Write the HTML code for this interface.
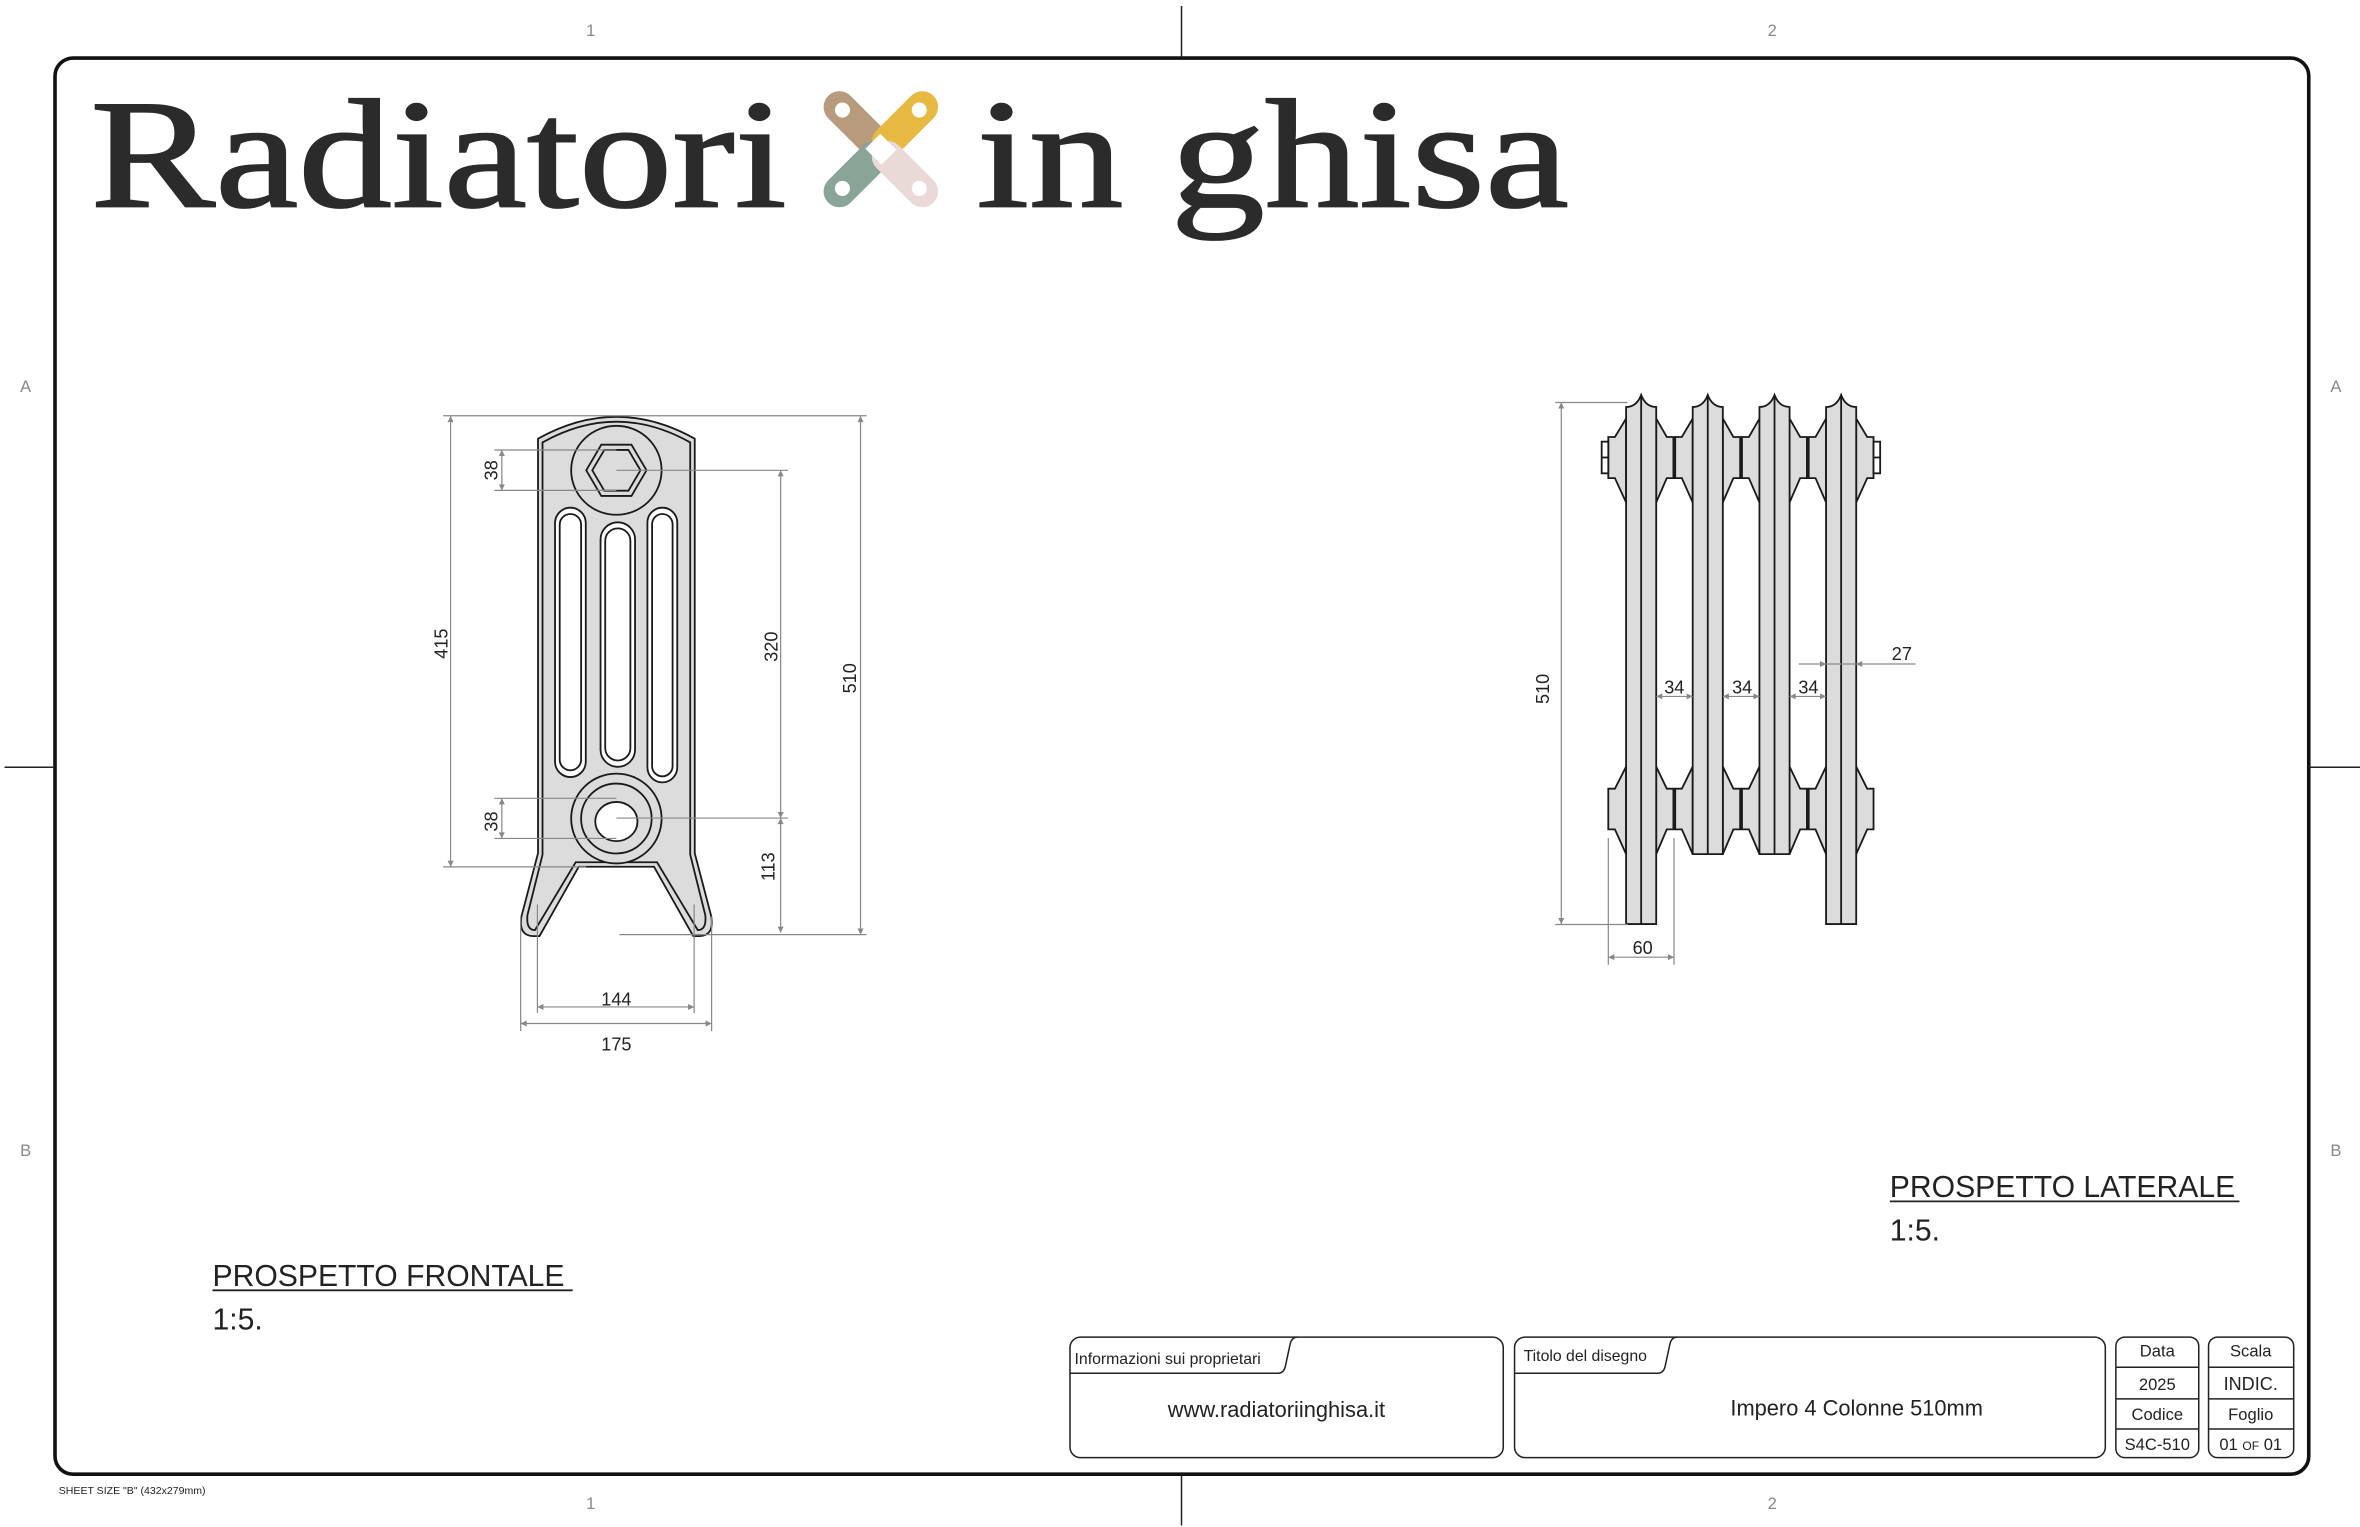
<!DOCTYPE html>
<html><head><meta charset="utf-8"><style>
html,body{margin:0;padding:0;background:#fff;}
svg{display:block;}
text{font-family:"Liberation Sans",sans-serif;}
</style></head><body>
<svg width="2360" height="1527" viewBox="0 0 1566 1013" preserveAspectRatio="none" xmlns="http://www.w3.org/2000/svg">
<defs>
<marker id="ar" viewBox="0 0 10 10" refX="10" refY="5" markerWidth="7" markerHeight="4" orient="auto-start-reverse" markerUnits="userSpaceOnUse"><path d="M0,0 L10,5 L0,10 Z" fill="#888"/></marker>
</defs>
<rect width="1566" height="1013" fill="#fff"/>
<rect x="36.5" y="38.5" width="1495.5" height="939.5" rx="12" fill="none" stroke="#111" stroke-width="2.4"/>
<g stroke="#222" stroke-width="1">
<line x1="784" y1="4" x2="784" y2="38"/><line x1="784" y1="978" x2="784" y2="1012"/>
<line x1="3" y1="509" x2="36" y2="509"/><line x1="1532" y1="509" x2="1566" y2="509"/>
</g>
<g fill="#888" font-size="11" text-anchor="middle">
<text x="392" y="24">1</text><text x="1176" y="24">2</text>
<text x="392" y="1001">1</text><text x="1176" y="1001">2</text>
<text x="17" y="260">A</text><text x="1550" y="260">A</text>
<text x="17" y="767">B</text><text x="1550" y="767">B</text>
</g>
<text x="39" y="991" font-size="7" fill="#222">SHEET SIZE "B" (432x279mm)</text>

<g fill="#2b2b2b" stroke="#2b2b2b" stroke-width="1.2" font-size="103">
<text x="60" y="137" textLength="462" lengthAdjust="spacingAndGlyphs" style="font-family:'Liberation Serif',serif">Radiatori</text>
<text x="648" y="137" textLength="393" lengthAdjust="spacingAndGlyphs" style="font-family:'Liberation Serif',serif">in ghisa</text>
</g>
<g stroke-linecap="round" stroke-width="21">
<line x1="557" y1="71" x2="580" y2="94" stroke="#b89a7c"/>
<line x1="612" y1="71" x2="589" y2="94" stroke="#e8b940"/>
<line x1="557" y1="127" x2="580" y2="104" stroke="#88a598"/>
<line x1="612" y1="127" x2="589" y2="104" stroke="#e9d9d7"/>
</g>
<g fill="#fff">
<circle cx="559" cy="73" r="5"/><circle cx="610" cy="73" r="5"/><circle cx="559" cy="125" r="5"/><circle cx="610" cy="125" r="5"/>
<rect x="577" y="92" width="15" height="14" transform="rotate(45 584.5 99)"/>
</g>

<g stroke="#1a1a1a" stroke-width="1.2">
<path d="M357,291 Q409,262 461,291 L461,566 L472,608 Q474,621 464,621 L460,621 L434,575 L384,575 L358,621 L354,621 Q344,621 346,608 L357,566 Z" fill="#dcdcdc"/>
<path d="M360,293.5 Q409,266 458,293.5 L458,567 L468,607 Q469,617 463,617 L436,572 L382,572 L355,617 Q349,617 350,607 L360,567 Z" fill="none"/>
<ellipse cx="409" cy="312" rx="30" ry="29.5" fill="#dcdcdc"/>
<polygon points="389,312 399,295 419,295 429,312 419,329 399,329" fill="#dcdcdc"/>
<polygon points="393,312 401,298.5 417,298.5 425,312 417,325.5 401,325.5" fill="none"/>
<rect x="368.3" y="336.8" width="20.4" height="178.7" rx="10.2" fill="#fff"/>
<rect x="371.4" y="341" width="14.2" height="170" rx="7.1" fill="#fff"/>
<rect x="398.5" y="346.5" width="22.9" height="162.2" rx="11.4" fill="#fff"/>
<rect x="401.6" y="350.5" width="16.7" height="154" rx="8.3" fill="#fff"/>
<rect x="429.6" y="336.8" width="19.8" height="182.2" rx="9.9" fill="#fff"/>
<rect x="432.7" y="341" width="13.6" height="174" rx="6.8" fill="#fff"/>
<ellipse cx="409" cy="543" rx="30" ry="29.8" fill="#dcdcdc"/>
<ellipse cx="409" cy="543" rx="23.4" ry="23.2" fill="#dcdcdc"/>
<ellipse cx="409" cy="545" rx="14" ry="13" fill="#fff"/>
</g>
<g stroke="#888" stroke-width="0.8" fill="none">
<line x1="294" y1="275.8" x2="575" y2="275.8"/>
<line x1="299" y1="276" x2="299" y2="575" marker-start="url(#ar)" marker-end="url(#ar)"/>
<line x1="294" y1="575.1" x2="389" y2="575.1"/>
<line x1="328" y1="298.5" x2="409" y2="298.5"/><line x1="328" y1="325.3" x2="409" y2="325.3"/>
<line x1="333" y1="298.5" x2="333" y2="325.3" marker-start="url(#ar)" marker-end="url(#ar)"/>
<line x1="328" y1="529.6" x2="409" y2="529.6"/><line x1="328" y1="556.2" x2="409" y2="556.2"/>
<line x1="333" y1="529.6" x2="333" y2="556.2" marker-start="url(#ar)" marker-end="url(#ar)"/>
<line x1="409" y1="312" x2="523" y2="312"/><line x1="409" y1="542.7" x2="523" y2="542.7"/>
<line x1="518" y1="312" x2="518" y2="542.7" marker-start="url(#ar)" marker-end="url(#ar)"/>
<line x1="518" y1="542.7" x2="518" y2="618.7" marker-start="url(#ar)" marker-end="url(#ar)"/>
<line x1="411" y1="620" x2="575" y2="620"/>
<line x1="571" y1="276" x2="571" y2="620" marker-start="url(#ar)" marker-end="url(#ar)"/>
<line x1="356.6" y1="600" x2="356.6" y2="672"/><line x1="460.6" y1="600" x2="460.6" y2="672"/>
<line x1="356.6" y1="668" x2="460.6" y2="668" marker-start="url(#ar)" marker-end="url(#ar)"/>
<line x1="345.5" y1="608" x2="345.5" y2="684"/><line x1="472.2" y1="608" x2="472.2" y2="684"/>
<line x1="345.5" y1="679" x2="472.2" y2="679" marker-start="url(#ar)" marker-end="url(#ar)"/>
</g>
<g fill="#222" font-size="12" text-anchor="middle">
<text transform="translate(297,427) rotate(-90)">415</text>
<text transform="translate(330,312) rotate(-90)">38</text>
<text transform="translate(330,545) rotate(-90)">38</text>
<text transform="translate(516,429) rotate(-90)">320</text>
<text transform="translate(514,575) rotate(-90)">113</text>
<text transform="translate(568,450) rotate(-90)">510</text>
<text x="409" y="667">144</text>
<text x="409" y="697">175</text>
</g>

<g stroke="#1a1a1a" stroke-width="1.2" fill="#dcdcdc">
<polygon points="1099,277.7 1106,289.9 1116,289.9 1123.2,277.7 1123.2,333.3 1116,317.2 1106,317.2 1099,333.3"/>
<polygon points="1143.2,277.7 1150.2,289.9 1160.5,289.9 1167.5,277.7 1167.5,333.3 1160.5,317.2 1150.2,317.2 1143.2,333.3"/>
<polygon points="1187.5,277.7 1194.5,289.9 1204.7,289.9 1211.7,277.7 1211.7,333.3 1204.7,317.2 1194.5,317.2 1187.5,333.3"/>
<polygon points="1079,277.7 1071.6,289.9 1067.2,289.9 1067.2,317.2 1071.6,317.2 1079,333.3"/>
<polygon points="1231.7,277.7 1239,289.9 1243.2,289.9 1243.2,317.2 1239,317.2 1231.7,333.3"/>
<rect x="1062.8" y="293" width="4.4" height="21" fill="#fff"/>
<rect x="1243.2" y="293" width="4.4" height="21" fill="#fff"/>
<polygon points="1099,508.6 1106,523.2 1116,523.2 1123.2,508.6 1123.2,566.6 1116,550.2 1106,550.2 1099,566.6"/>
<polygon points="1143.2,508.6 1150.2,523.2 1160.5,523.2 1167.5,508.6 1167.5,566.6 1160.5,550.2 1150.2,550.2 1143.2,566.6"/>
<polygon points="1187.5,508.6 1194.5,523.2 1204.7,523.2 1211.7,508.6 1211.7,566.6 1204.7,550.2 1194.5,550.2 1187.5,566.6"/>
<polygon points="1079,508.6 1071.6,523.2 1067.2,523.2 1067.2,550.2 1071.6,550.2 1079,566.6"/>
<polygon points="1231.7,508.6 1239,523.2 1243.2,523.2 1243.2,550.2 1239,550.2 1231.7,566.6"/>
<path d="M1079,270 Q1086,270 1089,262 Q1092,270 1099,270 L1099,613 L1079,613 Z"/>
<path d="M1123.2,270 Q1130.2,270 1133.2,262 Q1136.2,270 1143.2,270 L1143.2,566.6 L1123.2,566.6 Z"/>
<path d="M1167.5,270 Q1174.5,270 1177.5,262 Q1180.5,270 1187.5,270 L1187.5,566.6 L1167.5,566.6 Z"/>
<path d="M1211.7,270 Q1218.7,270 1221.7,262 Q1224.7,270 1231.7,270 L1231.7,613 L1211.7,613 Z"/>
<line x1="1089" y1="263" x2="1089" y2="613"/>
<line x1="1133.2" y1="263" x2="1133.2" y2="566.6"/>
<line x1="1177.5" y1="263" x2="1177.5" y2="566.6"/>
<line x1="1221.7" y1="263" x2="1221.7" y2="613"/>
<line x1="1062.8" y1="303.5" x2="1067.2" y2="303.5"/>
<line x1="1243.2" y1="303.5" x2="1247.6" y2="303.5"/>
</g>
<g stroke="#1a1a1a" stroke-width="2.4">
<line x1="1111" y1="289.9" x2="1111" y2="317.2"/><line x1="1155.3" y1="289.9" x2="1155.3" y2="317.2"/><line x1="1199.6" y1="289.9" x2="1199.6" y2="317.2"/>
<line x1="1111" y1="523.2" x2="1111" y2="550.2"/><line x1="1155.3" y1="523.2" x2="1155.3" y2="550.2"/><line x1="1199.6" y1="523.2" x2="1199.6" y2="550.2"/>
</g>
<g stroke="#888" stroke-width="0.8" fill="none">
<line x1="1032" y1="267" x2="1080" y2="267"/><line x1="1032" y1="613.3" x2="1080" y2="613.3"/>
<line x1="1036" y1="267" x2="1036" y2="613" marker-start="url(#ar)" marker-end="url(#ar)"/>
<line x1="1067.2" y1="556" x2="1067.2" y2="640"/><line x1="1110.8" y1="556" x2="1110.8" y2="640"/>
<line x1="1067.2" y1="635" x2="1110.8" y2="635" marker-start="url(#ar)" marker-end="url(#ar)"/>
<line x1="1099" y1="462" x2="1123.2" y2="462" marker-start="url(#ar)" marker-end="url(#ar)"/>
<line x1="1143.2" y1="462" x2="1167.5" y2="462" marker-start="url(#ar)" marker-end="url(#ar)"/>
<line x1="1187.5" y1="462" x2="1211.7" y2="462" marker-start="url(#ar)" marker-end="url(#ar)"/>
<line x1="1193.6" y1="440.5" x2="1211.7" y2="440.5" marker-end="url(#ar)"/>
<line x1="1211.7" y1="440.5" x2="1231.7" y2="440.5"/>
<line x1="1271" y1="440.5" x2="1231.7" y2="440.5" marker-end="url(#ar)"/>
</g>
<g fill="#222" font-size="12" text-anchor="middle">
<text transform="translate(1028,457) rotate(-90)">510</text>
<text x="1090" y="633">60</text>
<text x="1111" y="460">34</text><text x="1156" y="460">34</text><text x="1200" y="460">34</text>
<text x="1262" y="438">27</text>
</g>

<g fill="#222" font-size="20">
<text x="141" y="853">PROSPETTO FRONTALE</text>
<text x="141" y="882">1:5.</text>
<text x="1254" y="794">PROSPETTO LATERALE</text>
<text x="1254" y="823">1:5.</text>
</g>
<line x1="141" y1="856" x2="380" y2="856" stroke="#222" stroke-width="1.2"/>
<line x1="1254" y1="797" x2="1486" y2="797" stroke="#222" stroke-width="1.2"/>

<g stroke="#222" stroke-width="1" fill="none">
<rect x="710" y="887" width="287.5" height="80" rx="7"/>
<path d="M710,911 L848,911 Q852,911 853,906 L856,892 Q857,887 861,887"/>
<rect x="1005" y="887" width="392" height="80" rx="7"/>
<path d="M1005,911 L1100,911 Q1104,911 1105,906 L1108,892 Q1109,887 1113,887"/>
<rect x="1404" y="887" width="55" height="80" rx="6"/>
<rect x="1465.5" y="887" width="56.5" height="80" rx="6"/>
<line x1="1404" y1="907" x2="1459" y2="907"/><line x1="1404" y1="928" x2="1459" y2="928"/><line x1="1404" y1="948" x2="1459" y2="948"/>
<line x1="1465.5" y1="907" x2="1522" y2="907"/><line x1="1465.5" y1="928" x2="1522" y2="928"/><line x1="1465.5" y1="948" x2="1522" y2="948"/>
</g>
<g fill="#222">
<text x="713" y="905" font-size="10.5">Informazioni sui proprietari</text>
<text x="847" y="940" font-size="14.5" text-anchor="middle">www.radiatoriinghisa.it</text>
<text x="1011" y="903" font-size="10.5">Titolo del disegno</text>
<text x="1232" y="939" font-size="14.5" text-anchor="middle">Impero 4 Colonne 510mm</text>
<g font-size="11" text-anchor="middle">
<text x="1431.5" y="900">Data</text><text x="1431.5" y="922">2025</text><text x="1431.5" y="942">Codice</text><text x="1431.5" y="962">S4C-510</text>
<text x="1493.5" y="900">Scala</text><text x="1493.5" y="922" font-size="12">INDIC.</text><text x="1493.5" y="942">Foglio</text><text x="1493.5" y="962">01 <tspan font-size="8">OF</tspan> 01</text>
</g>
</g>
</svg>
</body></html>
